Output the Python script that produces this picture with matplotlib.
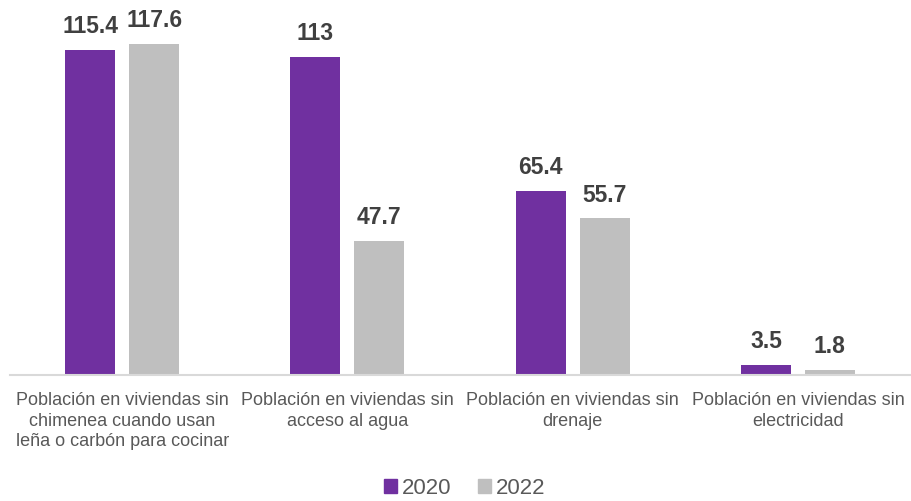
import numpy as np
import matplotlib.pyplot as plt
from matplotlib.patches import Patch

categories = ['Población en viviendas sin\nchimenea cuando usan\nleña o carbón para cocinar',
              'Población en viviendas sin\nacceso al agua',
              'Población en viviendas sin\ndrenaje',
              'Población en viviendas sin\nelectricidad']
values2020 = [115.4, 113, 65.4, 3.5]
values2022 = [117.6, 47.7, 55.7, 1.8]
labels2020 = ['115.4', '113', '65.4', '3.5']
labels2022 = ['117.6', '47.7', '55.7', '1.8']

purple = '#7030A0'
grey = '#BFBFBF'

plt.rcParams['font.family'] = ['Liberation Sans', 'DejaVu Sans']

fig = plt.figure(figsize=(9.11, 5.01), dpi=100)
ax = fig.add_axes([9.5 / 911, 126 / 501, 901 / 911, 375 / 501])

x = np.arange(len(categories))
w = 0.222
off = 0.142
b1 = ax.bar(x - off, values2020, w, color=purple, zorder=2)
b2 = ax.bar(x + off, values2022, w, color=grey, zorder=2)

for bars, labs in ((b1, labels2020), (b2, labels2022)):
  for rect, lab in zip(bars, labs):
    ax.annotate(lab, (rect.get_x() + rect.get_width() / 2, rect.get_height()),
                xytext=(0, 12), textcoords='offset points', ha='center', va='baseline',
                fontsize=16.5, fontweight='bold', color='#404040')

ax.set_xlim(-0.5, 3.5)
ax.set_ylim(0, 133.2)
for s in ['top', 'right', 'left']:
  ax.spines[s].set_visible(False)
ax.spines['bottom'].set_color('#D9D9D9')
ax.spines['bottom'].set_linewidth(1.5)
ax.set_yticks([])
ax.set_xticks(x)
ax.set_xticklabels(categories, fontsize=13, color='#595959', linespacing=1.3)
ax.tick_params(axis='x', length=0, pad=12)

handles = [Patch(color=purple, label='2020'), Patch(color=grey, label='2022')]
fig.legend(handles=handles, loc='lower center', bbox_to_anchor=(0.51, -0.036), ncol=2,
           frameon=False, fontsize=16, labelcolor='#595959',
           handlelength=0.6, handleheight=0.6, handletextpad=0.2, columnspacing=1.2)

fig.savefig('out.png', dpi=100)
